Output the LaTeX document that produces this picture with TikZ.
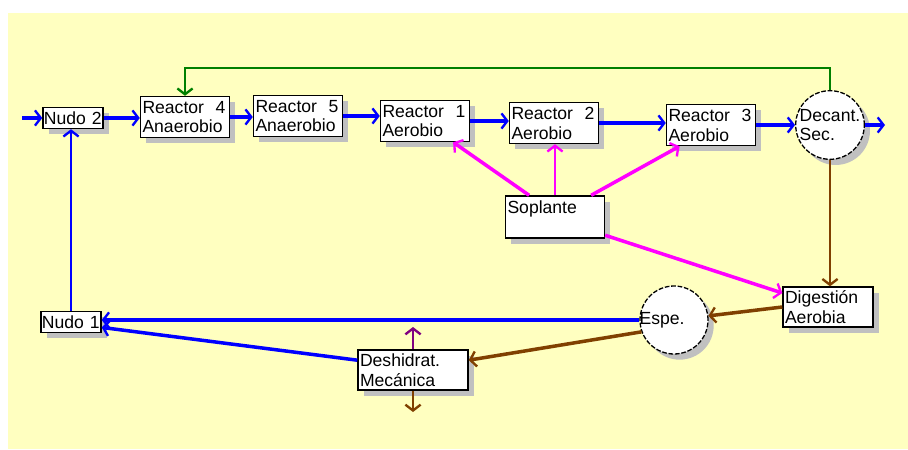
\documentclass[tikz,border=0pt]{standalone}
\usepackage{fontspec}
\setmainfont{Liberation Sans}
\usetikzlibrary{positioning,arrows.meta,shadows}

\definecolor{bgyellow}{RGB}{255,255,192}
\definecolor{shadowgray}{RGB}{192,192,192}
\definecolor{flowblue}{RGB}{0,0,255}
\definecolor{flowmagenta}{RGB}{255,0,255}
\definecolor{flowbrown}{RGB}{128,64,0}
\definecolor{flowgreen}{RGB}{0,128,0}
\definecolor{flowpurple}{RGB}{128,0,128}

\tikzset{
  unit/.style={draw=black, line width=1.2pt, fill=white, inner sep=0.06cm,
    align=left, font=\fontsize{15}{17}\selectfont,
    drop shadow={shadow xshift=0.17cm, shadow yshift=-0.17cm,
      fill=shadowgray, opacity=1}},
  block/.style 2 args={unit, rectangle, text width=#1, minimum height=#2},
  nudo/.style={block={1.74cm}{0.63cm}, inner xsep=0.03cm},
  reactor/.style={block={2.55cm}{1.23cm}},
  tank/.style={unit, circle, minimum size=2.04cm, inner sep=0pt,
    line width=1.1pt, dash pattern=on 4pt off 1.5pt},
  flow/.style={line width=3pt, ->},
  thinflow/.style={line width=2.3pt, ->}
}

\begin{document}
\begin{tikzpicture}[x=0.03cm, y=-0.03cm,
    >={Straight Barb[length=5pt, width=13pt, line width=2pt]}]

  \useasboundingbox (0,0) rectangle (908,449);
  \fill[white] (0,0) rectangle (908,449);
  \fill[bgyellow] (8,13) rectangle (908,449);

  % units
  \node [nudo] (nudo-2) at (73,118) {Nudo 2};
  \node [nudo] (nudo-1) at (71,322) {Nudo 1};

  \foreach \n/\t/\x/\y in {4/Anaerobio/185/117, 5/Anaerobio/298/116,
      1/Aerobio/425/121, 2/Aerobio/554/123, 3/Aerobio/711/125}
  \node [reactor] (reactor-\n) at (\x,\y) {Reactor~ \n\\\t};

  \node [tank] (decant) at (830,125) {Decant.\\Sec.};
  \node [block={2.85cm}{1.26cm}] (soplante) at (555,217) {Soplante\\\mbox{}};
  \node [block={2.58cm}{1.2cm}] (digestion) at (828,307) {Digestión\\Aerobia};
  \node [tank, label={[anchor=west, inner sep=0pt,
      font=\fontsize{15}{17}\selectfont]west:Espe.}] (espe) at (674,320) {};
  \node [block={3.18cm}{1.2cm}] (deshidrat) at (413,370) {Deshidrat.\\Mecánica};

  \coordinate (inflow) at (22,118);
  \coordinate (outflow) at (885,125);
  \coordinate (vent) at (413,327);
  \coordinate (cake) at (413,412);

  % water line
  \draw [flow, flowblue] (inflow) -- (nudo-2);
  \draw [flow, flowblue] (nudo-2.east) -- (nudo-2.east -| reactor-4.west);
  \foreach \a/\b in {4/5, 5/1, 1/2, 2/3}
  \draw [flow, flowblue] (reactor-\a.east) -- (reactor-\a.east -| reactor-\b.west);
  \draw [flow, flowblue] (reactor-3.east) -- (reactor-3.east -| decant.west);
  \draw [flow, flowblue] (decant) -- (outflow);

  % recycle
  \draw [thinflow, flowgreen] (decant.north) -- ++(0,-22) -| (reactor-4.north);

  % sludge line
  \draw [thinflow, flowbrown] (decant.south) -- (decant.south |- digestion.north);
  \draw [flow, flowbrown] (digestion.west) -- (espe);
  \draw [flow, flowbrown] (espe.200) -- (deshidrat.10);
  \draw [flow, flowblue] (espe.west) -- (espe.west -| nudo-1.east);
  \draw [flow, flowblue] (deshidrat.170) -- (nudo-1.-10);
  \draw [thinflow, flowblue] (nudo-1.north) -- (nudo-1.north |- nudo-2.south);
  \draw [thinflow, flowpurple] (deshidrat.north) -- (vent);
  \draw [thinflow, flowbrown] (deshidrat.south) -- (cake);

  % air
  \draw [flow, flowmagenta] (soplante.140) -- (reactor-1.-37);
  \draw [thinflow, flowmagenta] (soplante.north) -- (soplante.north |- reactor-2.south);
  \draw [flow, flowmagenta] (soplante.31) -- (reactor-3.214);
  \draw [flow, flowmagenta] (soplante.-20) -- (digestion.163);

\end{tikzpicture}
\end{document}
